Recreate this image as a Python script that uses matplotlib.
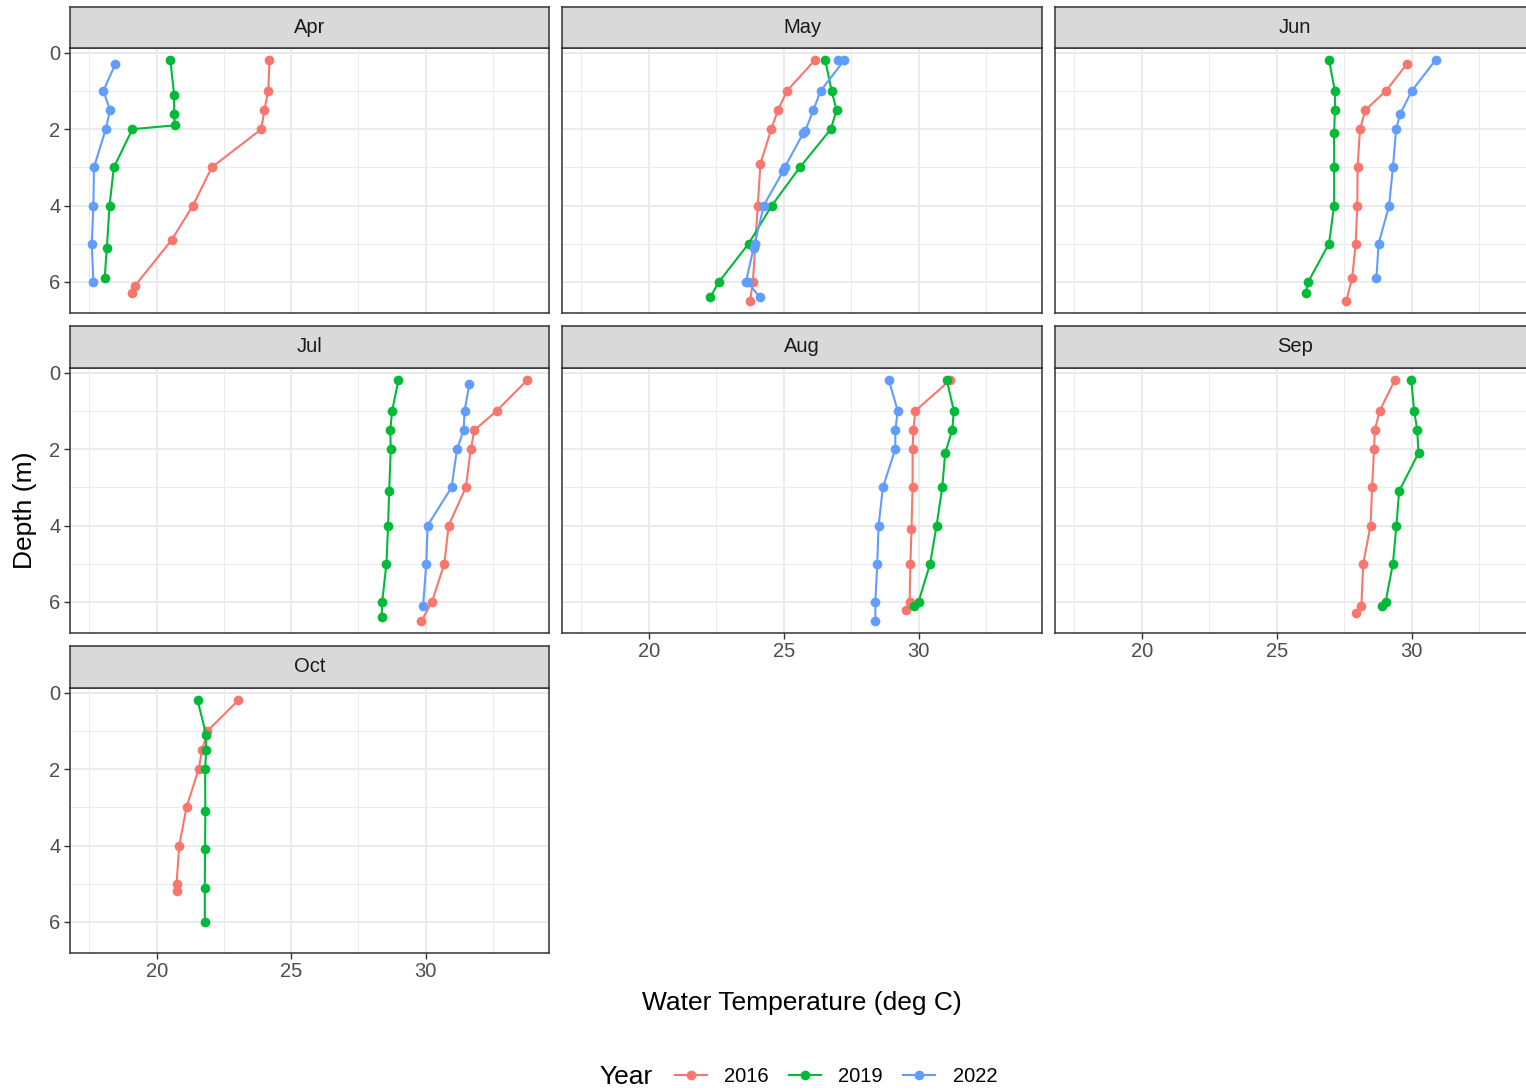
import matplotlib
matplotlib.use("Agg")
import matplotlib.pyplot as plt
from matplotlib.lines import Line2D

plt.rcParams['font.family'] = ['Liberation Sans', 'DejaVu Sans']

months = ["Apr", "May", "Jun", "Jul", "Aug", "Sep", "Oct"]
years = ["2016", "2019", "2022"]
colors = {"2016": "#F8766D", "2019": "#00BA38", "2022": "#619CFF"}

# (depth, temperature) profiles
data = {
    "Apr": {
        "2016": ([0.2, 1.0, 1.5, 2.0, 3.0, 4.0, 4.9, 6.1, 6.3],
                 [24.19, 24.15, 24.0, 23.89, 22.05, 21.35, 20.56, 19.2, 19.07]),
        "2019": ([0.19, 1.1, 1.61, 1.9, 2.0, 3.0, 4.0, 5.1, 5.9],
                 [20.51, 20.65, 20.65, 20.68, 19.1, 18.41, 18.25, 18.15, 18.07]),
        "2022": ([0.3, 1.0, 1.5, 2.0, 3.0, 4.0, 5.0, 6.0],
                 [18.46, 18.02, 18.27, 18.11, 17.67, 17.65, 17.59, 17.65]),
    },
    "May": {
        "2016": ([0.19, 1.0, 1.5, 2.0, 2.9, 4.0, 5.0, 6.0, 6.5],
                 [26.16, 25.12, 24.79, 24.54, 24.14, 24.04, 23.95, 23.86, 23.75]),
        "2019": ([0.19, 1.0, 1.5, 2.0, 3.0, 4.0, 5.0, 6.0, 6.4],
                 [26.54, 26.78, 26.96, 26.75, 25.6, 24.56, 23.7, 22.6, 22.28]),
        "2022": ([0.19, 0.19, 1.0, 1.5, 2.05, 2.1, 3.0, 3.1, 4.0, 5.0, 5.1, 6.0, 6.0, 6.4],
                 [27.0, 27.25, 26.37, 26.1, 25.8, 25.73, 25.04, 24.98, 24.26, 23.93, 23.89, 23.6, 23.66, 24.11]),
    },
    "Jun": {
        "2016": ([0.3, 1.0, 1.5, 2.0, 3.0, 4.0, 5.0, 5.9, 6.5],
                 [29.82, 29.05, 28.29, 28.09, 28.0, 27.99, 27.93, 27.8, 27.58]),
        "2019": ([0.19, 1.0, 1.5, 2.1, 3.0, 4.0, 5.0, 6.0, 6.3],
                 [26.94, 27.16, 27.16, 27.13, 27.13, 27.13, 26.94, 26.17, 26.08]),
        "2022": ([0.19, 1.0, 1.6, 2.0, 3.0, 4.0, 5.0, 5.9],
                 [30.89, 30.01, 29.58, 29.43, 29.31, 29.17, 28.78, 28.7]),
    },
    "Jul": {
        "2016": ([0.19, 1.0, 1.5, 2.0, 3.0, 4.0, 5.0, 6.0, 6.5],
                 [33.77, 32.63, 31.81, 31.67, 31.49, 30.85, 30.69, 30.23, 29.84]),
        "2019": ([0.2, 1.0, 1.5, 2.0, 3.1, 4.0, 5.0, 6.0, 6.4],
                 [28.98, 28.75, 28.68, 28.7, 28.64, 28.6, 28.54, 28.38, 28.36]),
        "2022": ([0.3, 1.0, 1.5, 2.0, 3.0, 4.0, 5.0, 6.1],
                 [31.62, 31.44, 31.41, 31.16, 30.96, 30.07, 30.02, 29.9]),
    },
    "Aug": {
        "2016": ([0.19, 1.0, 1.5, 2.0, 3.0, 4.1, 5.0, 6.0, 6.2],
                 [31.17, 29.88, 29.81, 29.78, 29.78, 29.74, 29.7, 29.67, 29.54]),
        "2019": ([0.19, 1.0, 1.5, 2.1, 3.0, 4.0, 5.0, 6.0, 6.1],
                 [31.05, 31.31, 31.25, 30.99, 30.88, 30.67, 30.43, 30.0, 29.85]),
        "2022": ([0.19, 1.0, 1.5, 2.0, 3.0, 4.0, 5.0, 6.0, 6.5],
                 [28.9, 29.23, 29.14, 29.14, 28.68, 28.52, 28.47, 28.4, 28.4]),
    },
    "Sep": {
        "2016": ([0.19, 1.0, 1.5, 2.0, 3.0, 4.0, 5.0, 6.1, 6.3],
                 [29.38, 28.82, 28.64, 28.61, 28.54, 28.48, 28.21, 28.14, 27.95]),
        "2019": ([0.19, 1.0, 1.5, 2.1, 3.1, 4.0, 5.0, 6.0, 6.1],
                 [29.99, 30.1, 30.21, 30.26, 29.54, 29.44, 29.31, 29.04, 28.91]),
    },
    "Oct": {
        "2016": ([0.19, 1.0, 1.5, 2.0, 3.0, 4.0, 5.0, 5.2],
                 [23.04, 21.89, 21.69, 21.56, 21.11, 20.84, 20.74, 20.74]),
        "2019": ([0.19, 1.1, 1.5, 2.0, 3.1, 4.1, 5.1, 6.0],
                 [21.52, 21.84, 21.84, 21.8, 21.81, 21.8, 21.79, 21.79]),
    },
}

x_ticks = [20, 25, 30]
x_minor = [17.5, 22.5, 27.5, 32.5]
y_ticks = [0, 2, 4, 6]
y_minor = [1, 3, 5]

# limits with 5% expansion
all_t = [v for m in data.values() for d, t in m.values() for v in t]
all_d = [v for m in data.values() for d, t in m.values() for v in d]
tmin, tmax = min(all_t), max(all_t)
dmin, dmax = min(all_d), max(all_d)
xr = tmax - tmin
yr = dmax - dmin
xlim = (tmin - 0.05 * xr, tmax + 0.05 * xr)
ylim = (dmax + 0.05 * yr, dmin - 0.05 * yr)

W, H = 1526, 1092
fig = plt.figure(figsize=(W / 100, H / 100), dpi=100)

col_x = [(70, 549), (562, 1042), (1055, 1535)]
row_y = [(7, 48, 313), (326, 368, 633), (646, 688, 953)]

grey_grid = "#EBEBEB"
border = "#333333"
small = 14.5
big = 19

def px_rect(x0, y0, x1, y1):
    return [x0 / W, 1 - y1 / H, (x1 - x0) / W, (y1 - y0) / H]

for i, m in enumerate(months):
    r, c = divmod(i, 3)
    x0, x1 = col_x[c]
    st, pt, pb = row_y[r]
    ax = fig.add_axes(px_rect(x0, pt, x1, pb))
    ax.set_xlim(*xlim)
    ax.set_ylim(*ylim)
    for xm in x_minor:
        ax.axvline(xm, color=grey_grid, lw=0.75, zorder=0)
    for ym in y_minor:
        ax.axhline(ym, color=grey_grid, lw=0.75, zorder=0)
    for xt in x_ticks:
        ax.axvline(xt, color=grey_grid, lw=1.5, zorder=0)
    for yt in y_ticks:
        ax.axhline(yt, color=grey_grid, lw=1.5, zorder=0)
    for y in years:
        if y in data[m]:
            d, t = data[m][y]
            ax.plot(t, d, color=colors[y], lw=1.5, marker="o", ms=7,
                    markeredgewidth=0, zorder=3)
    ax.set_xticks(x_ticks)
    ax.set_yticks(y_ticks)
    for s in ax.spines.values():
        s.set_color(border)
        s.set_linewidth(1.1)
    ax.tick_params(axis="both", colors="#333333", labelcolor="#4D4D4D",
                   labelsize=small, length=4.3, width=1.0, pad=2.5)
    show_x = (r == 2) or (r == 1 and c >= 1)
    if not show_x:
        ax.tick_params(axis="x", bottom=False, labelbottom=False)
    if c != 0:
        ax.tick_params(axis="y", left=False, labelleft=False)
    # strip
    sax = fig.add_axes(px_rect(x0, st, x1, pt))
    sax.set_facecolor("#D9D9D9")
    sax.set_xticks([])
    sax.set_yticks([])
    for s in sax.spines.values():
        s.set_color(border)
        s.set_linewidth(1.1)
    sax.text(0.5, 0.5, m, ha="center", va="center", fontsize=small,
             color="#1A1A1A", transform=sax.transAxes)

fig.text(802 / W, 1 - 1003 / H, "Water Temperature (deg C)", ha="center",
         va="center", fontsize=big, color="black")
fig.text(25 / W, 1 - 510 / H, "Depth (m)", ha="center", va="center",
         rotation=90, fontsize=big, color="black")

handles = [Line2D([0], [0], color=colors[y], lw=1.5, marker="o", ms=7,
                  markeredgewidth=0) for y in years]
fig.text(626 / W, 1 - 1077 / H, "Year", ha="center", va="center",
         fontsize=big, color="black")
fig.legend(handles, years, loc="center", bbox_to_anchor=(836 / W, 1 - 1077 / H),
           ncol=3, frameon=False, fontsize=small, handlelength=1.6,
           handletextpad=0.85, columnspacing=1.0, borderpad=0)

fig.savefig("out.png", dpi=100)
